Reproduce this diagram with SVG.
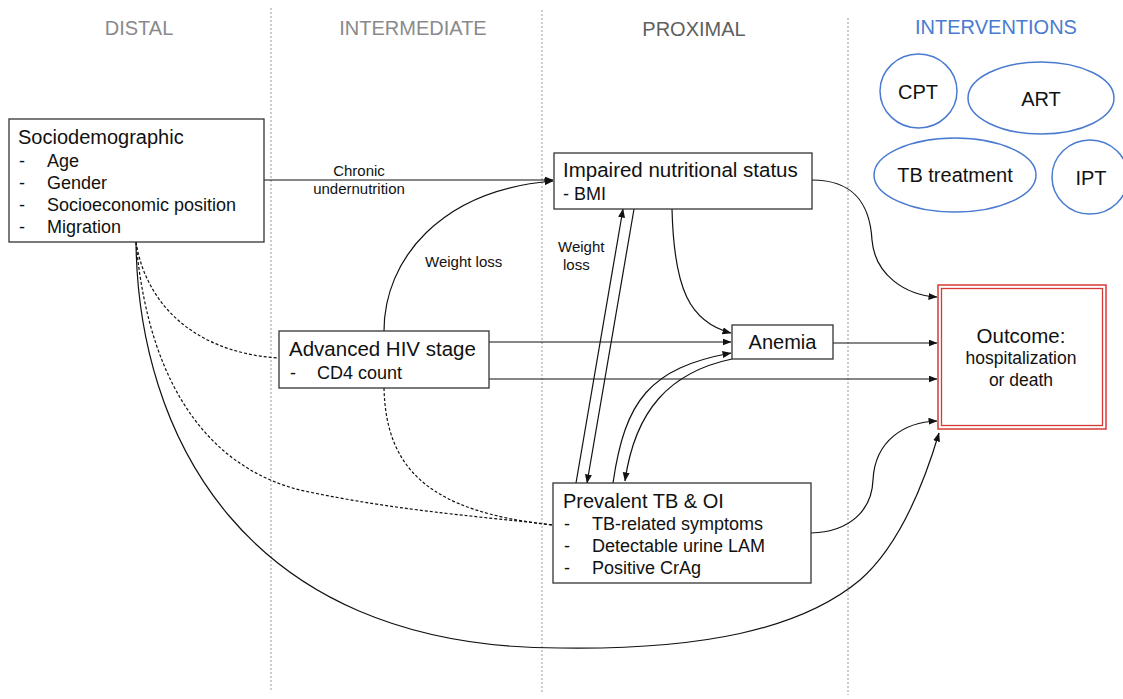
<svg xmlns="http://www.w3.org/2000/svg" width="1123" height="699" viewBox="0 0 1123 699">
<defs>
<marker id="arr" markerUnits="userSpaceOnUse" markerWidth="9" markerHeight="8" refX="8.5" refY="3.5" orient="auto">
<path d="M0,0 L9,3.5 L0,7 z" fill="#111"/>
</marker>
<style>
text{font-family:"Liberation Sans",Arial,sans-serif;fill:#111}
.hdr{font-size:20px;text-anchor:middle}
.t{font-size:20px}
.i{font-size:18px}
.lbl{font-size:15px}
.box{fill:#fff;stroke:#333;stroke-width:1.3}
.div{stroke:#999;stroke-width:1;stroke-dasharray:2,2;fill:none}
.c{fill:none;stroke:#111;stroke-width:1.2}
.a{marker-end:url(#arr)}
.d{stroke-dasharray:3,2}
.ell{fill:#fff;stroke:#4a7bd0;stroke-width:1.5}
.et{font-size:20px;text-anchor:middle}
</style>
</defs>
<rect width="1123" height="699" fill="#fff"/>

<g id="dividers">
<line class="div" x1="271" y1="8" x2="271" y2="692"/>
<line class="div" x1="542" y1="10" x2="542" y2="692"/>
<line class="div" x1="848" y1="18" x2="848" y2="695"/>
</g>

<g id="headers">
<text class="hdr" x="139" y="35" style="fill:#8a8a8a">DISTAL</text>
<text class="hdr" x="413" y="35" style="fill:#8a8a8a">INTERMEDIATE</text>
<text class="hdr" x="694" y="36" style="fill:#5f5f5f">PROXIMAL</text>
<text class="hdr" x="996" y="34" style="fill:#4a7bd0">INTERVENTIONS</text>
</g>

<g id="connectors">
<path class="c a" d="M264,180 L553,180"/>
<path class="c a" d="M384,331 C384,260 440,190 553,181"/>
<path class="c a" d="M576,483 L623,209"/>
<path class="c a" d="M634,209 L587,483"/>
<path class="c a" d="M672,209 C674,290 690,322 731,333"/>
<path class="c a" d="M489,342 L731,342"/>
<path class="c a" d="M489,379 L937,379"/>
<path class="c a" d="M613,483 C625,400 650,368 731,353"/>
<path class="c a" d="M732,359 C670,372 635,410 625,481"/>
<path class="c a" d="M833,343 L937,343"/>
<path class="c a" d="M812,180 C855,180 870,205 872,240 C875,275 905,295 937,297"/>
<path class="c a" d="M811,533 C850,532 872,510 873,480 C875,440 905,422 937,421"/>
<path class="c a" d="M136,242 C138,430 240,648 560,648 C700,650 800,630 860,580 C900,545 925,480 939,433"/>
<path class="c d" d="M136,242 C145,300 190,352 278,358"/>
<path class="c d" d="M136,242 C150,400 220,470 300,490 C400,512 500,518 553,525"/>
<path class="c d" d="M384,388 C386,470 430,512 553,525"/>
<text class="lbl" x="359" y="176" text-anchor="middle">Chronic</text>
<text class="lbl" x="359" y="194" text-anchor="middle">undernutrition</text>
<text class="lbl" x="425" y="267">Weight loss</text>
<text class="lbl" x="558" y="252">Weight</text>
<text class="lbl" x="563" y="270">loss</text>
</g>

<g id="sociodemographic">
<rect class="box" x="9" y="119" width="255" height="123"/>
<text class="t" x="18" y="144">Sociodemographic</text>
<text class="i" x="19" y="167">-</text><text class="i" x="47" y="167">Age</text>
<text class="i" x="19" y="189">-</text><text class="i" x="47" y="189">Gender</text>
<text class="i" x="19" y="211">-</text><text class="i" x="47" y="211">Socioeconomic position</text>
<text class="i" x="19" y="233">-</text><text class="i" x="47" y="233">Migration</text>
</g>

<g id="nutrition">
<rect class="box" x="554" y="153" width="258" height="56"/>
<text class="t" x="563" y="177" style="font-size:20.5px">Impaired nutritional status</text>
<text class="i" x="563" y="200">- BMI</text>
</g>

<g id="hiv">
<rect class="box" x="279" y="331" width="210" height="57"/>
<text class="t" x="289" y="356" style="font-size:20.5px">Advanced HIV stage</text>
<text class="i" x="290" y="379">-</text><text class="i" x="317" y="379">CD4 count</text>
</g>

<g id="anemia">
<rect class="box" x="732" y="325" width="101" height="34"/>
<text class="t" x="782.5" y="349" text-anchor="middle">Anemia</text>
</g>

<g id="tb">
<rect class="box" x="553" y="483" width="258" height="100"/>
<text class="t" x="563" y="508">Prevalent TB &amp; OI</text>
<text class="i" x="564" y="530">-</text><text class="i" x="592" y="530">TB-related symptoms</text>
<text class="i" x="564" y="552">-</text><text class="i" x="592" y="552">Detectable urine LAM</text>
<text class="i" x="564" y="574">-</text><text class="i" x="592" y="574">Positive CrAg</text>
</g>

<g id="outcome">
<rect x="938" y="285" width="168" height="144" fill="#fff" stroke="#d63a35" stroke-width="1.5"/>
<rect x="941.5" y="288.5" width="161" height="137" fill="none" stroke="#d63a35" stroke-width="1.3"/>
<text x="1021" y="343" text-anchor="middle" style="font-size:20.5px">Outcome:</text>
<text x="1021" y="364" text-anchor="middle" style="font-size:17.5px">hospitalization</text>
<text x="1021" y="386" text-anchor="middle" style="font-size:17.5px">or death</text>
</g>

<g id="cpt">
<ellipse class="ell" cx="918.5" cy="91" rx="38.5" ry="37"/>
<text class="et" x="918" y="99">CPT</text>
</g>
<g id="art">
<ellipse class="ell" cx="1041" cy="98" rx="73" ry="36"/>
<text class="et" x="1041" y="106">ART</text>
</g>
<g id="tbtreatment">
<ellipse class="ell" cx="955" cy="175" rx="81" ry="37"/>
<text class="et" x="955" y="182">TB treatment</text>
</g>
<g id="ipt">
<ellipse class="ell" cx="1090" cy="177" rx="38" ry="37"/>
<text class="et" x="1091" y="185">IPT</text>
</g>
</svg>
